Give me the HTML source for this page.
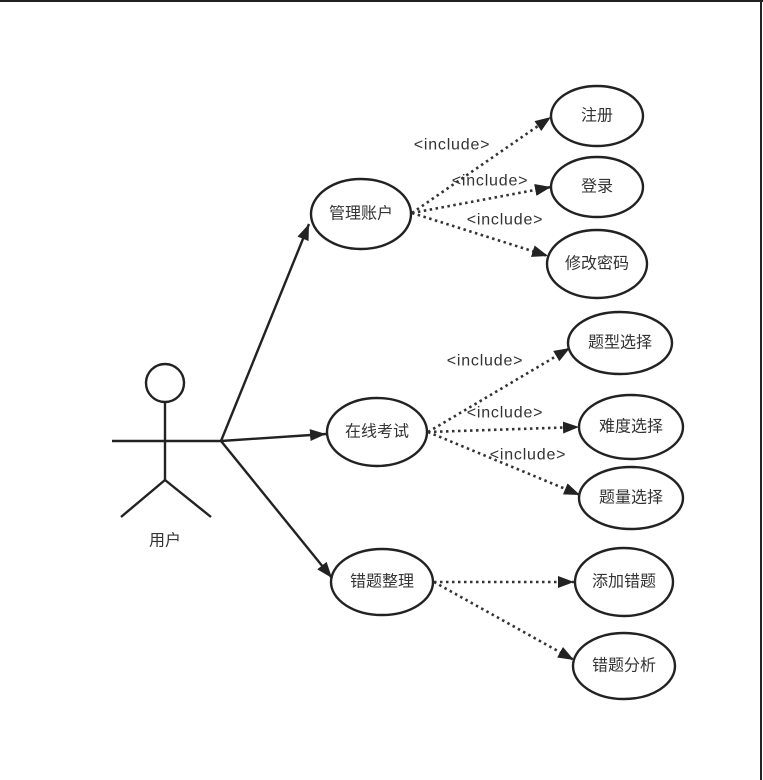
<!DOCTYPE html>
<html><head><meta charset="utf-8"><style>
html,body{margin:0;padding:0;background:#fff;}
svg{display:block;}
text{font-family:"Liberation Sans","Noto Sans CJK SC",sans-serif;fill:#333;}
</style></head><body>
<svg width="763" height="780" viewBox="0 0 763 780" xmlns="http://www.w3.org/2000/svg">
<defs>
<marker id="a" viewBox="0 0 16 12" refX="16" refY="6" markerWidth="16" markerHeight="12" markerUnits="userSpaceOnUse" orient="auto">
<path d="M0,0 L16,6 L0,12 Z" fill="#222"/>
</marker>
</defs>
<line x1="0" y1="1" x2="763" y2="1" stroke="#222" stroke-width="2"/>
<line x1="761" y1="0" x2="761" y2="780" stroke="#222" stroke-width="2"/>
<g stroke="#222" stroke-width="2.4" fill="none">
<ellipse cx="165" cy="383" rx="19" ry="19"/>
<line x1="165" y1="402" x2="165" y2="480"/>
<line x1="112" y1="441" x2="221" y2="441"/>
<line x1="165" y1="480" x2="121" y2="517"/>
<line x1="165" y1="480" x2="211" y2="517"/>
<line x1="221" y1="441" x2="309" y2="224" marker-end="url(#a)"/>
<line x1="221" y1="441" x2="326" y2="434" marker-end="url(#a)"/>
<line x1="221" y1="441" x2="332" y2="578" marker-end="url(#a)"/>
<ellipse cx="361" cy="214" rx="50" ry="35"/>
<ellipse cx="597" cy="116" rx="46" ry="30"/>
<ellipse cx="597" cy="187" rx="46" ry="30"/>
<ellipse cx="597" cy="264" rx="50" ry="34"/>
<ellipse cx="377" cy="432" rx="50" ry="34"/>
<ellipse cx="620" cy="343" rx="52" ry="31"/>
<ellipse cx="631" cy="427" rx="52" ry="32"/>
<ellipse cx="631" cy="498" rx="52" ry="31"/>
<ellipse cx="382" cy="582" rx="51" ry="33"/>
<ellipse cx="624" cy="582" rx="49" ry="34"/>
<ellipse cx="624" cy="666" rx="51" ry="33"/>
</g>
<g stroke="#333" stroke-width="2.6" stroke-dasharray="2.5,3.5" fill="none">
<line x1="412" y1="213" x2="551" y2="117" marker-end="url(#a)"/>
<line x1="412" y1="213" x2="551" y2="187" marker-end="url(#a)"/>
<line x1="412" y1="213" x2="548" y2="256" marker-end="url(#a)"/>
<line x1="428" y1="432" x2="570" y2="348" marker-end="url(#a)"/>
<line x1="428" y1="432" x2="579" y2="427" marker-end="url(#a)"/>
<line x1="428" y1="432" x2="580" y2="495" marker-end="url(#a)"/>
<line x1="434" y1="582" x2="574" y2="582" marker-end="url(#a)"/>
<line x1="434" y1="582" x2="574" y2="660" marker-end="url(#a)"/>
</g>
<g font-size="16" text-anchor="middle" dominant-baseline="central">
<text x="165" y="541">用户</text>
<text x="361" y="214">管理账户</text>
<text x="597" y="116">注册</text>
<text x="597" y="187">登录</text>
<text x="597" y="264">修改密码</text>
<text x="377" y="432">在线考试</text>
<text x="620" y="343">题型选择</text>
<text x="631" y="427">难度选择</text>
<text x="631" y="498">题量选择</text>
<text x="382" y="582">错题整理</text>
<text x="624" y="582">添加错题</text>
<text x="624" y="666">错题分析</text>
</g>
<g font-size="16" letter-spacing="0.8" text-anchor="middle" dominant-baseline="central">
<text x="452" y="145">&lt;include&gt;</text>
<text x="490" y="181">&lt;include&gt;</text>
<text x="505" y="220">&lt;include&gt;</text>
<text x="485" y="361">&lt;include&gt;</text>
<text x="505" y="413">&lt;include&gt;</text>
<text x="528" y="455">&lt;include&gt;</text>
</g>
</svg>
</body></html>
